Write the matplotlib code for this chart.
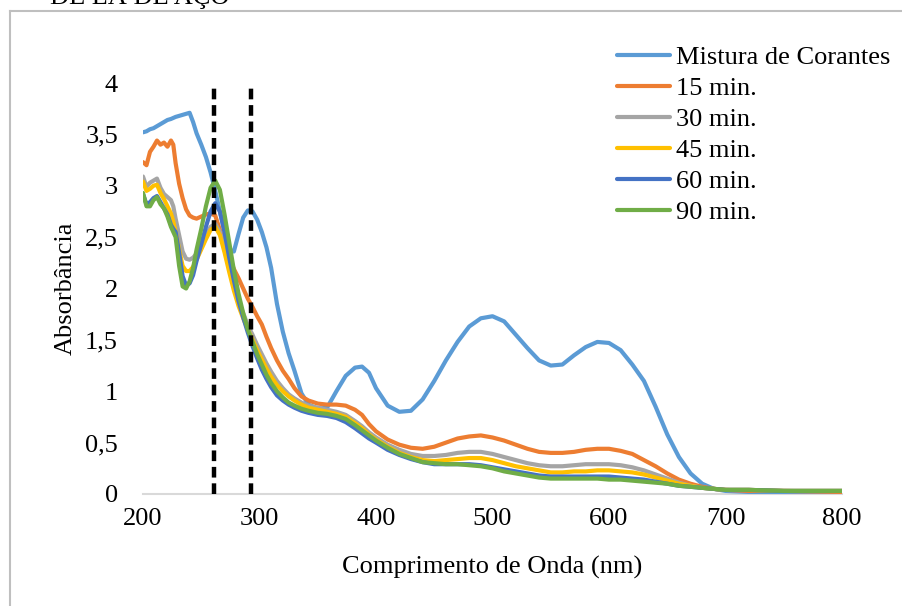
import matplotlib
matplotlib.use("Agg")
import matplotlib.pyplot as plt
from matplotlib.lines import Line2D

plt.rcParams["font.family"] = ["Liberation Serif", "DejaVu Serif"]
plt.rcParams["font.size"] = 19

# wavelength grid (nm)
wl = [200, 203, 206, 209, 212, 215, 218, 221, 224, 226, 228, 231, 234, 237, 240,
      243, 246, 250, 254, 258, 262, 266, 270, 274, 278, 282, 286, 290, 294, 298,
      302, 306, 310, 315, 320, 325, 330, 336, 342, 350, 358, 366, 374, 382, 388,
      394, 400, 410, 420, 430, 440, 450, 460, 470, 480, 490, 500, 510, 520, 530,
      540, 550, 560, 570, 580, 590, 600, 610, 620, 630, 640, 650, 660, 670, 680,
      690, 700, 720, 750, 800]

mistura = [3.52, 3.53, 3.55, 3.56, 3.58, 3.60, 3.62, 3.64, 3.65, 3.66, 3.67, 3.68, 3.69, 3.70, 3.71,
           3.62, 3.51, 3.40, 3.28, 3.13, 2.95, 2.75, 2.55, 2.38, 2.36, 2.53, 2.69, 2.76, 2.75, 2.67,
           2.55, 2.40, 2.20, 1.85, 1.58, 1.37, 1.20, 0.98, 0.87, 0.83, 0.84, 1.00, 1.15, 1.23, 1.24,
           1.18, 1.03, 0.86, 0.80, 0.81, 0.92, 1.10, 1.30, 1.48, 1.63, 1.71, 1.73, 1.68, 1.55, 1.42,
           1.30, 1.25, 1.26, 1.35, 1.43, 1.48, 1.47, 1.40, 1.26, 1.10, 0.85, 0.58, 0.36, 0.20, 0.10,
           0.05, 0.03, 0.02, 0.01, 0.01]

min15 = [3.23, 3.20, 3.33, 3.38, 3.44, 3.40, 3.42, 3.38, 3.44, 3.40, 3.22, 3.02, 2.88, 2.77, 2.71,
         2.69, 2.68, 2.70, 2.72, 2.73, 2.71, 2.57, 2.42, 2.30, 2.19, 2.10, 2.00, 1.90, 1.82, 1.73,
         1.65, 1.53, 1.42, 1.30, 1.20, 1.12, 1.03, 0.95, 0.91, 0.88, 0.87, 0.87, 0.86, 0.82, 0.77,
         0.68, 0.61, 0.53, 0.48, 0.45, 0.44, 0.46, 0.50, 0.54, 0.56, 0.57, 0.55, 0.52, 0.48, 0.44,
         0.41, 0.40, 0.40, 0.41, 0.43, 0.44, 0.44, 0.42, 0.39, 0.33, 0.27, 0.20, 0.14, 0.10, 0.07,
         0.05, 0.04, 0.03, 0.03, 0.02]

min30 = [3.09, 2.99, 3.03, 3.05, 3.07, 2.98, 2.92, 2.89, 2.86, 2.80, 2.68, 2.52, 2.36, 2.29, 2.28,
         2.30, 2.34, 2.42, 2.52, 2.60, 2.63, 2.55, 2.38, 2.20, 2.02, 1.88, 1.76, 1.64, 1.55, 1.45,
         1.36, 1.27, 1.19, 1.10, 1.03, 0.97, 0.93, 0.89, 0.86, 0.84, 0.82, 0.80, 0.77, 0.71, 0.66,
         0.60, 0.55, 0.48, 0.43, 0.39, 0.37, 0.37, 0.38, 0.40, 0.41, 0.41, 0.39, 0.36, 0.33, 0.30,
         0.28, 0.27, 0.27, 0.28, 0.29, 0.29, 0.29, 0.28, 0.26, 0.23, 0.19, 0.15, 0.11, 0.08, 0.06,
         0.05, 0.04, 0.04, 0.03, 0.03]

min45 = [3.04, 2.95, 2.97, 3.00, 3.01, 2.93, 2.87, 2.80, 2.73, 2.65, 2.55, 2.38, 2.22, 2.17, 2.17,
         2.21, 2.28, 2.38, 2.48, 2.57, 2.60, 2.52, 2.35, 2.16, 1.98, 1.83, 1.71, 1.60, 1.50, 1.40,
         1.31, 1.22, 1.14, 1.06, 1.00, 0.95, 0.91, 0.87, 0.84, 0.82, 0.80, 0.78, 0.75, 0.69, 0.64,
         0.58, 0.53, 0.46, 0.40, 0.36, 0.33, 0.32, 0.33, 0.34, 0.35, 0.35, 0.33, 0.30, 0.27, 0.25,
         0.23, 0.21, 0.21, 0.22, 0.22, 0.23, 0.23, 0.22, 0.21, 0.19, 0.16, 0.13, 0.10, 0.08, 0.06,
         0.05, 0.04, 0.04, 0.03, 0.03]

min60 = [2.92, 2.82, 2.84, 2.88, 2.90, 2.84, 2.78, 2.72, 2.62, 2.58, 2.55, 2.35, 2.12, 2.03, 2.05,
         2.13, 2.27, 2.43, 2.60, 2.75, 2.83, 2.75, 2.55, 2.30, 2.08, 1.88, 1.72, 1.57, 1.44, 1.32,
         1.21, 1.12, 1.04, 0.96, 0.91, 0.87, 0.84, 0.81, 0.79, 0.77, 0.76, 0.74, 0.70, 0.64, 0.59,
         0.54, 0.50, 0.43, 0.38, 0.34, 0.31, 0.29, 0.29, 0.29, 0.29, 0.28, 0.26, 0.24, 0.22, 0.20,
         0.18, 0.17, 0.17, 0.17, 0.17, 0.17, 0.17, 0.16, 0.15, 0.14, 0.12, 0.10, 0.08, 0.07, 0.06,
         0.05, 0.04, 0.04, 0.03, 0.03]

min90 = [2.93, 2.80, 2.80, 2.86, 2.89, 2.82, 2.78, 2.70, 2.60, 2.55, 2.50, 2.22, 2.02, 2.00, 2.07,
         2.20, 2.38, 2.58, 2.80, 2.98, 3.05, 2.96, 2.72, 2.45, 2.18, 1.95, 1.76, 1.60, 1.48, 1.36,
         1.26, 1.16, 1.08, 1.00, 0.94, 0.89, 0.86, 0.83, 0.81, 0.79, 0.78, 0.76, 0.73, 0.67, 0.62,
         0.57, 0.52, 0.45, 0.39, 0.35, 0.31, 0.30, 0.29, 0.29, 0.28, 0.27, 0.25, 0.22, 0.20, 0.18,
         0.16, 0.15, 0.15, 0.15, 0.15, 0.15, 0.14, 0.14, 0.13, 0.12, 0.11, 0.10, 0.08, 0.07, 0.06,
         0.05, 0.04, 0.04, 0.03, 0.03]

series = [
    ("Mistura de Corantes", mistura, "#5B9BD5"),
    ("15 min.", min15, "#ED7D31"),
    ("30 min.", min30, "#A5A5A5"),
    ("45 min.", min45, "#FFC000"),
    ("60 min.", min60, "#4472C4"),
    ("90 min.", min90, "#70AD47"),
]

marker_wl = [261, 293]

fig = plt.figure(figsize=(9.02, 6.06), dpi=100)
ax = fig.add_axes([143 / 902, 1 - 494 / 606, 699 / 902, 411 / 606])

for label, vals, color in series:
    ax.plot(wl, vals, color=color, lw=3.0, label=label,
            solid_joinstyle="round", solid_capstyle="round")

ax.vlines(marker_wl, 0, 4, colors="black", lw=3.2, linestyles=(0, (2.4, 1.3)))

ax.set_xlim(200, 800)
ax.set_ylim(0, 4)
ax.set_xticks([200, 300, 400, 500, 600, 700, 800])
ax.set_yticks([0, 0.5, 1, 1.5, 2, 2.5, 3, 3.5, 4])
ax.set_yticklabels(["0", "0,5", "1", "1,5", "2", "2,5", "3", "3,5", "4"])
ax.tick_params(length=0)
ax.tick_params(axis="x", pad=10)
ax.tick_params(axis="y", pad=18)
for s in ["top", "right", "left"]:
    ax.spines[s].set_visible(False)
ax.spines["bottom"].set_color("#D9D9D9")
ax.spines["bottom"].set_linewidth(1.5)
ax.spines["bottom"].set_zorder(0)

ax.set_xlabel("Comprimento de Onda (nm)", labelpad=19)
ax.set_ylabel("Absorbância", labelpad=6)

ax.legend(loc="upper left", bbox_to_anchor=(617 / 902, 1 - 46 / 606),
          bbox_transform=fig.transFigure, frameon=False,
          handlelength=2.0, handletextpad=0.25, labelspacing=0.28,
          borderpad=0, borderaxespad=0)

# chart frame and clipped caption above it
fig.add_artist(Line2D([10 / 902, 10 / 902], [0, 1 - 11 / 606],
                      transform=fig.transFigure, color="#BFBFBF", lw=1.5))
fig.add_artist(Line2D([10 / 902, 1], [1 - 11 / 606, 1 - 11 / 606],
                      transform=fig.transFigure, color="#BFBFBF", lw=1.5))
fig.text(50 / 902, 1 - 4 / 606, "DE LÃ DE AÇO", ha="left", va="baseline")

fig.savefig("out.png", dpi=100, facecolor="white")
